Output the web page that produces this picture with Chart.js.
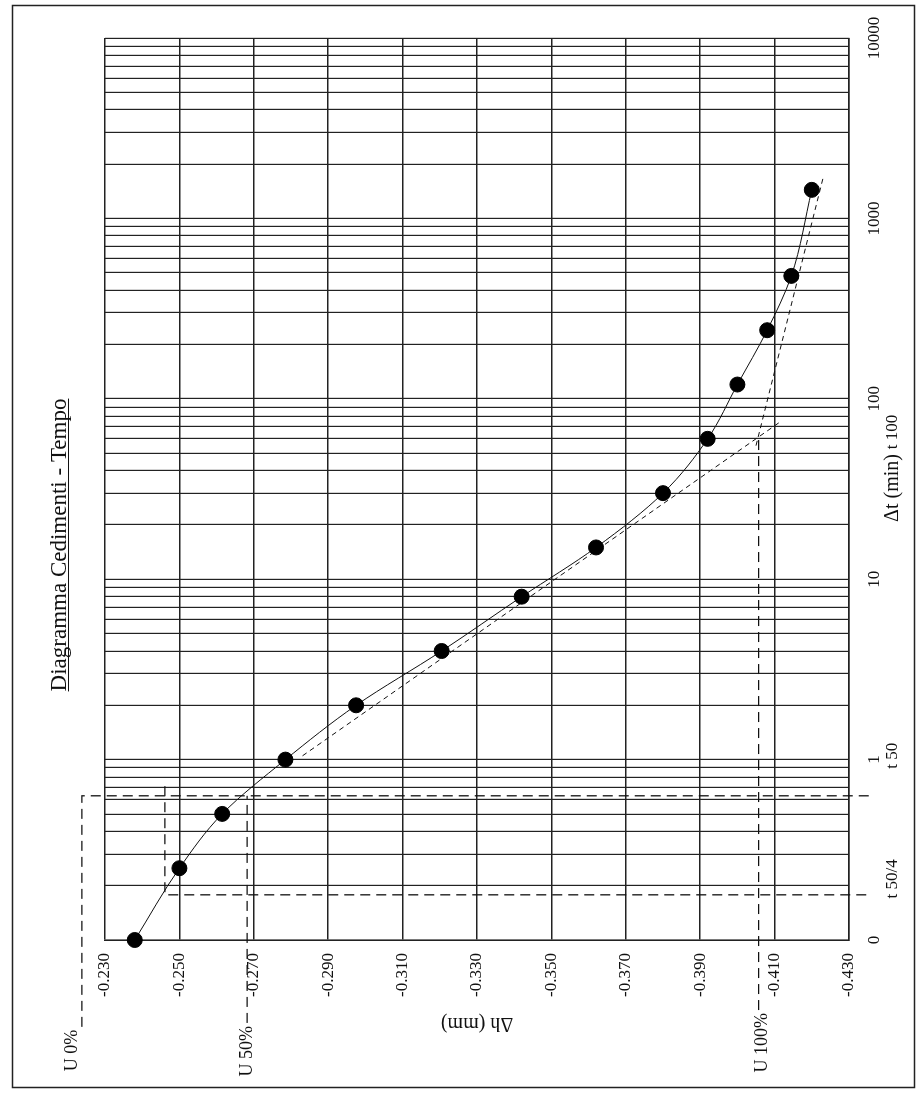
<!DOCTYPE html>
<html>
<head>
<meta charset="utf-8">
<script src="https://cdn.jsdelivr.net/npm/chart.js@4.4.1/dist/chart.umd.min.js"></script>
<style>
  html, body { margin: 0; padding: 0; overflow: hidden; background: #fff; }
  /* the sheet is drawn landscape and turned a quarter left, like the scan */
  #sheet {
    position: absolute; left: 0; top: 0;
    width: 1093px; height: 919px;
    transform-origin: 0 0;
    transform: translateY(1093px) rotate(-90deg);
  }
</style>
</head>
<body>
<div id="sheet"><canvas id="chart" width="1093" height="919"></canvas></div>
<script>
// readings: elapsed time (min) and settlement (mm)
const times = [0.1, 0.25, 0.5, 1, 2, 4, 8, 15, 30, 60, 120, 240, 480, 1440];
const settlements = [-0.238, -0.250, -0.2615, -0.2785, -0.2975, -0.3205, -0.342, -0.362, -0.380, -0.392, -0.400, -0.408, -0.4145, -0.420];

// axis ticks
const yTicks = [-0.43, -0.41, -0.39, -0.37, -0.35, -0.33, -0.31, -0.29, -0.27, -0.25, -0.23];
const xTickValues = [0.1, 1, 10, 100, 1000, 10000];
const xTickText = ['0', '1', '10', '100', '1000', '10000'];

// Casagrande construction
const steepT = [1.05, 75];
const steepH = [-0.2831, -0.4117];
const tailT = [55, 1700];
const tailH = [-0.4050, -0.4231];
const u0T = [0.033, 0.63, 0.63];
const u0H = [-0.2238, -0.2238, -0.4362];
const quarterT = [0.712, 0.178, 0.178];
const quarterH = [-0.2461, -0.2461, -0.4362];
const u50T = [0.0347, 0.63];
const u50H = [-0.2682, -0.2682];
const u100T = [0.0409, 63];
const u100H = [-0.4057, -0.4057];

const uLabels = ['U 0%', 'U 50%', 'U 100%'];
const tLabels = ['t 50/4', 't 50', 't 100'];
const tLabelTimes = [0.218, 1.05, 65.5];

// log grid: 1..9 in every decade
const gridTimes = [];
for (let e = -1; e <= 3; e++) {
    for (let m = 1; m <= 9; m++) gridTimes.push(m * Math.pow(10, e));
}
gridTimes.push(10000);

function pts(xs, ys) {
    return xs.map((x, i) => ({ x: x, y: ys[i] }));
}

const serif = '"Liberation Serif", "DejaVu Serif", serif';

function dashed(data, dash, width) {
    return {
        data: data, borderColor: '#111', borderWidth: width, borderDash: dash,
        pointRadius: 0, tension: 0, clip: false, fill: false
    };
}

const sheetText = {
    id: 'sheetText',
    beforeDraw(chart) {
        const ctx = chart.ctx;
        ctx.save();
        ctx.fillStyle = '#fff';
        ctx.fillRect(0, 0, chart.width, chart.height);
        ctx.strokeStyle = '#222';
        ctx.lineWidth = 1.5;
        ctx.strokeRect(5.5, 12.5, 1082, 902);
        ctx.restore();
    },
    afterDraw(chart) {
        const ctx = chart.ctx;
        const xs = chart.scales.x, ys = chart.scales.y;
        ctx.save();
        ctx.fillStyle = '#111';
        ctx.strokeStyle = '#111';

        // title, underlined
        ctx.font = '23px ' + serif;
        ctx.textAlign = 'center';
        ctx.textBaseline = 'alphabetic';
        const title = 'Diagramma Cedimenti - Tempo';
        ctx.fillText(title, 548, 66);
        const w = ctx.measureText(title).width;
        ctx.lineWidth = 1;
        ctx.beginPath();
        ctx.moveTo(548 - w / 2, 68.5);
        ctx.lineTo(548 + w / 2, 68.5);
        ctx.stroke();

        // axis titles
        ctx.font = '20px ' + serif;
        ctx.textBaseline = 'middle';
        ctx.fillText('\u0394t (min)', 605, 893);
        ctx.save();
        ctx.translate(70, (chart.chartArea.top + chart.chartArea.bottom) / 2);
        ctx.rotate(-Math.PI / 2);
        ctx.fillText('\u0394h (mm)', 0, 0);
        ctx.restore();

        // time marks under the axis
        ctx.font = '17px ' + serif;
        tLabels.forEach((s, i) => {
            ctx.fillText(s, xs.getPixelForValue(tLabelTimes[i]), 893);
        });

        // U levels at the left end of their lines
        ctx.font = '18px ' + serif;
        ctx.textAlign = 'right';
        const starts = [[u0T[0], u0H[0]], [u50T[0], u50H[0]], [u100T[0], u100H[0]]];
        const lift = [-10, 0, 4];
        starts.forEach((p, i) => {
            ctx.fillText(uLabels[i], xs.getPixelForValue(p[0]) - 3, ys.getPixelForValue(p[1]) + lift[i]);
        });
        ctx.restore();
    }
};

new Chart(document.getElementById('chart'), {
    type: 'line',
    data: {
        datasets: [
            {
                data: pts(times, settlements),
                borderColor: '#111', borderWidth: 1,
                cubicInterpolationMode: 'monotone',
                pointRadius: 7.5, pointBackgroundColor: '#000', pointBorderColor: '#000',
                clip: false, fill: false
            },
            dashed(pts(steepT, steepH), [5, 4], 1),
            dashed(pts(tailT, tailH), [5, 4], 1),
            dashed(pts(u0T, u0H), [10, 6], 1.3),
            dashed(pts(quarterT, quarterH), [10, 6], 1.3),
            dashed(pts(u50T, u50H), [10, 6], 1.3),
            dashed(pts(u100T, u100H), [10, 6], 1.3)
        ]
    },
    options: {
        responsive: false,
        animation: false,
        devicePixelRatio: 1,
        layout: { padding: { left: 0, top: 105, right: 38, bottom: 0 } },
        plugins: { legend: { display: false }, tooltip: { enabled: false } },
        scales: {
            x: {
                type: 'logarithmic',
                min: 0.1, max: 10000,
                afterBuildTicks: (scale) => { scale.ticks = gridTimes.map(v => ({ value: v })); },
                afterFit: (scale) => { scale.height = 70; },
                grid: { color: '#222', lineWidth: 1.2, drawTicks: false },
                border: { color: '#222', width: 1.5 },
                ticks: {
                    autoSkip: false, maxRotation: 0, minRotation: 0, padding: 15,
                    color: '#111', font: { family: serif, size: 17 },
                    callback: (v) => {
                        const i = xTickValues.findIndex(m => Math.abs(Math.log10(m) - Math.log10(v)) < 1e-6);
                        return i >= 0 ? xTickText[i] : '';
                    }
                }
            },
            y: {
                type: 'linear',
                min: -0.43, max: -0.23,
                afterBuildTicks: (scale) => { scale.ticks = yTicks.map(v => ({ value: v })); },
                afterFit: (scale) => { scale.width = 153; },
                grid: { color: '#222', lineWidth: 1.5, drawTicks: false },
                border: { color: '#222', width: 1.5 },
                ticks: {
                    padding: 13, color: '#111', font: { family: serif, size: 17 },
                    callback: (v) => v.toFixed(3)
                }
            }
        }
    },
    plugins: [sheetText]
});
</script>
</body>
</html>
